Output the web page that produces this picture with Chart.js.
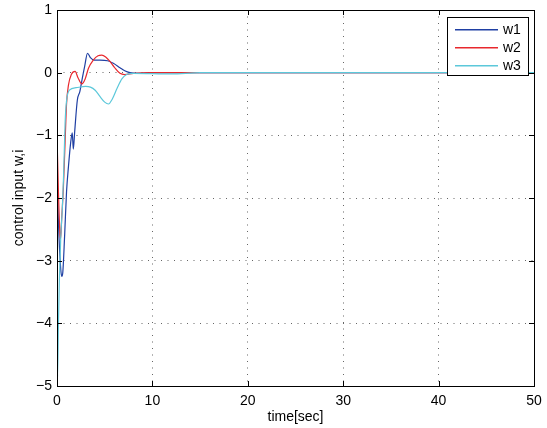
<!DOCTYPE html>
<html>
<head>
<meta charset="utf-8">
<script src="https://cdn.jsdelivr.net/npm/chart.js@4"></script>
<style>
  html, body { margin: 0; padding: 0; background: #fff; }
  #wrap { width: 547px; height: 428px; }
</style>
</head>
<body>
<div id="wrap"><canvas id="grafico" width="547" height="428"></canvas></div>
<script>
// ── Datos ──────────────────────────────────────
const xTicks = [0, 10, 20, 30, 40, 50]
const yTicks = [-5, -4, -3, -2, -1, 0, 1]

const w1T = [0, 0.2, 0.4, 0.5, 0.6, 0.8, 1.0, 1.2, 1.43, 1.6, 1.71, 1.85, 2.13, 2.4, 2.65, 2.9, 3.2, 3.5, 3.9, 4.5, 5.3, 5.9, 6.6, 7.1, 7.65, 8.5, 10, 50]
const w1Y = [-1.7, -2.6, -3.15, -3.25, -3.2, -2.6, -1.9, -1.5, -1.12, -0.96, -1.22, -0.95, -0.44, -0.3, -0.09, 0.1, 0.31, 0.24, 0.2, 0.2, 0.19, 0.15, 0.08, 0.03, 0, -0.01, 0, 0]

const w2T = [0, 0.15, 0.3, 0.38, 0.5, 0.66, 0.85, 1.0, 1.2, 1.5, 1.9, 2.2, 2.6, 2.95, 3.3, 3.8, 4.3, 4.7, 5.1, 5.55, 6.0, 6.6, 7.1, 8, 10, 50]
const w2Y = [-1.0, -1.9, -2.55, -2.65, -2.3, -1.87, -1.1, -0.5, -0.2, -0.03, 0.02, -0.08, -0.18, -0.1, 0.07, 0.2, 0.27, 0.28, 0.25, 0.18, 0.09, -0.01, -0.03, -0.01, 0, 0]

const w3T = [0, 0.06, 0.15, 0.25, 0.4, 0.55, 0.7, 0.85, 1.0, 1.3, 2.0, 3.0, 3.5, 4.0, 4.5, 5.0, 5.4, 5.8, 6.3, 6.8, 7.3, 8, 12, 15, 50]
const w3Y = [-4.05, -4.85, -4.0, -3.3, -2.6, -2.2, -1.6, -0.8, -0.45, -0.28, -0.24, -0.22, -0.23, -0.28, -0.38, -0.47, -0.5, -0.42, -0.25, -0.1, -0.03, -0.01, -0.02, 0, 0]

const etiquetas = ['w1', 'w2', 'w3']
const colores   = ['#1f3fa3', '#e8282d', '#5cc8da']

const aPuntos = (ts, ys) => ts.map((t, i) => ({ x: t, y: ys[i] }))
const series = [aPuntos(w1T, w1Y), aPuntos(w2T, w2Y), aPuntos(w3T, w3Y)]

const FUENTE = "'Liberation Sans', Arial, sans-serif"
const conMenos = v => String(v).replace('-', '\u2212')

// ── Marco estilo MATLAB + leyenda ──────────────
const marcoYLeyenda = {
  id: 'marcoYLeyenda',
  afterDraw(chart) {
    const { ctx, chartArea: a, scales } = chart
    ctx.save()
    ctx.setLineDash([])
    ctx.strokeStyle = '#000'
    ctx.lineWidth = 1
    ctx.strokeRect(a.left + 0.5, a.top + 0.5, a.right - a.left, a.bottom - a.top)

    // marcas hacia adentro
    const largo = 5
    ctx.beginPath()
    xTicks.forEach(v => {
      const px = Math.round(scales.x.getPixelForValue(v)) + 0.5
      ctx.moveTo(px, a.bottom); ctx.lineTo(px, a.bottom - largo)
      ctx.moveTo(px, a.top);    ctx.lineTo(px, a.top + largo)
    })
    yTicks.forEach(v => {
      const py = Math.round(scales.y.getPixelForValue(v)) + 0.5
      ctx.moveTo(a.left, py);  ctx.lineTo(a.left + largo, py)
      ctx.moveTo(a.right, py); ctx.lineTo(a.right - largo, py)
    })
    ctx.stroke()

    // leyenda
    const bx = a.right - 87, by = a.top + 7, bw = 81, bh = 58
    ctx.fillStyle = '#fff'
    ctx.fillRect(bx, by, bw, bh)
    ctx.strokeStyle = '#000'
    ctx.strokeRect(bx + 0.5, by + 0.5, bw, bh)
    ctx.font = '14px ' + FUENTE
    ctx.textBaseline = 'middle'
    etiquetas.forEach((txt, i) => {
      const y = Math.round(by + 11.5 + i * 18.3)
      ctx.fillStyle = colores[i]
      ctx.fillRect(bx + 8, y, 43, 1.5)
      ctx.fillStyle = '#000'
      ctx.fillText(txt, bx + 56, y + 1)
    })
    ctx.restore()
  }
}

const ctx = document.getElementById('grafico').getContext('2d')

new Chart(ctx, {
  type: 'line',
  data: {
    datasets: series.map((pts, i) => ({
      label: etiquetas[i],
      data: pts,
      borderColor: colores[i],
      borderWidth: 1.2,
      pointRadius: 0,
      fill: false,
      cubicInterpolationMode: 'monotone',
      order: 3 - i
    }))
  },
  options: {
    responsive: false,
    animation: false,
    layout: { padding: { left: 0, right: 13, top: 10, bottom: 0 } },
    plugins: {
      legend: { display: false },
      tooltip: { enabled: false }
    },
    scales: {
      x: {
        type: 'linear',
        min: 0, max: 50,
        afterBuildTicks: s => { s.ticks = xTicks.map(v => ({ value: v })) },
        afterFit: s => { s.height = 42; s.paddingLeft = 0; s.paddingRight = 0 },
        grid: { color: '#666', drawTicks: false, lineWidth: 1 },
        border: { display: false, dash: [1, 5.5] },
        ticks: { color: '#000', font: { family: FUENTE, size: 14 }, padding: 7, maxRotation: 0, callback: conMenos },
        title: {
          display: true, text: 'time[sec]', color: '#000',
          font: { family: FUENTE, size: 14 }, padding: { top: 0, bottom: 2 }
        }
      },
      y: {
        min: -5, max: 1,
        afterBuildTicks: s => { s.ticks = yTicks.map(v => ({ value: v })) },
        afterFit: s => { s.width = 57; s.paddingTop = 0; s.paddingBottom = 0 },
        grid: { color: '#666', drawTicks: false, lineWidth: 1 },
        border: { display: false, dash: [1, 5.5] },
        ticks: { color: '#000', font: { family: FUENTE, size: 14 }, padding: 5, callback: conMenos },
        title: {
          display: true, text: 'control input w,i', color: '#000',
          font: { family: FUENTE, size: 14 }, padding: { top: 11, bottom: 0 }
        }
      }
    }
  },
  plugins: [marcoYLeyenda]
})
</script>
</body>
</html>
